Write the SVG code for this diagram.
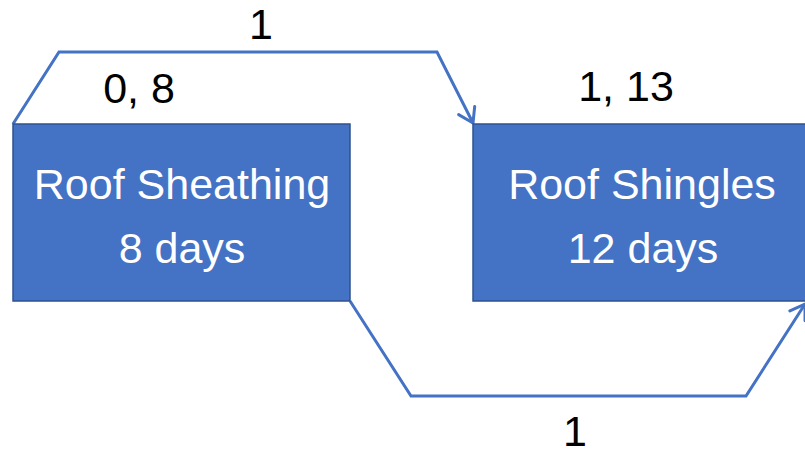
<svg xmlns="http://www.w3.org/2000/svg" width="805" height="456" viewBox="0 0 805 456">
  <style>
    .task rect { fill: #4472C4; stroke: #2F528F; stroke-width: 1.5; }
    .task text { fill: #FFFFFF; font-family: "Liberation Sans", Arial, sans-serif; font-size: 43px; text-anchor: middle; }
    .label { fill: #000000; font-family: "Liberation Sans", Arial, sans-serif; font-size: 43px; text-anchor: middle; }
    .link { fill: none; stroke: #4472C4; stroke-width: 3; stroke-linejoin: miter; }
  </style>
  <defs>
    <marker id="openArrow" markerUnits="userSpaceOnUse" markerWidth="24" markerHeight="24" viewBox="-20 -12 24 24" refX="0" refY="0" orient="auto">
      <path d="M -14 -9 L 0 0 L -14 9" fill="none" stroke="#4472C4" stroke-width="3" stroke-linecap="round" stroke-linejoin="round"/>
    </marker>
  </defs>

  <g id="connectors">
    <path class="link" d="M 13 124 L 59 52 L 437 52 L 473 123" marker-end="url(#openArrow)"/>
    <path class="link" d="M 350 301 L 411 396 L 746 396 L 805 304" marker-end="url(#openArrow)"/>
  </g>

  <g id="roof-sheathing" class="task">
    <rect x="13" y="124" width="337" height="177"/>
    <text x="182" y="199">Roof Sheathing</text>
    <text x="182" y="263">8 days</text>
  </g>

  <g id="roof-shingles" class="task">
    <rect x="473" y="124" width="340" height="177"/>
    <text x="642" y="199">Roof Shingles</text>
    <text x="643" y="263">12 days</text>
  </g>

  <g id="labels">
    <text class="label" x="139" y="103">0, 8</text>
    <text class="label" x="626" y="101">1, 13</text>
    <text class="label" x="261" y="39">1</text>
    <text class="label" x="575" y="446">1</text>
  </g>
</svg>
